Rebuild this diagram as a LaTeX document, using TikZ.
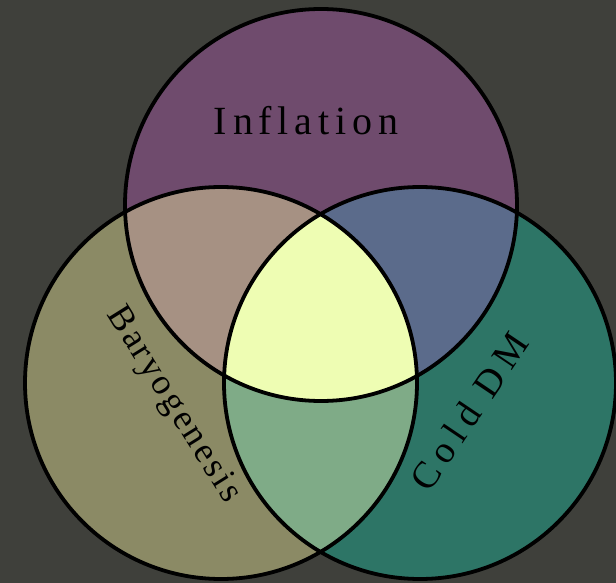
\documentclass[tikz,border=0pt]{standalone}
\usepackage{fontspec}
\setmainfont{Liberation Serif}
\newfontfamily\inffont[LetterSpace=14.5]{Liberation Serif}
\newfontfamily\barfont[LetterSpace=7.5]{Liberation Serif}
\newfontfamily\cdmfont[LetterSpace=19]{Liberation Serif}
\definecolor{bgc}{HTML}{3F403B}
\definecolor{cTop}{HTML}{6F4B6D}
\definecolor{cLeft}{HTML}{8B8A65}
\definecolor{cRight}{HTML}{2D7566}
\definecolor{cTL}{HTML}{A69183}
\definecolor{cTR}{HTML}{5B6B8B}
\definecolor{cLR}{HTML}{7FAB87}
\definecolor{cAll}{HTML}{EEFDB3}
\tikzset{
  ring/.style={draw=black, line width=3.8pt},
  lab/.style={text=black, inner sep=0pt}
}
\begin{document}
\begin{tikzpicture}[x=1pt,y=-1pt]
\useasboundingbox (0,0) rectangle (616,583);
\fill[bgc] (0,0) rectangle (616,583);
\coordinate (T) at (321,205);
\coordinate (L) at (221,383);
\coordinate (R) at (420,383);
\fill[cTop] (T) circle (196pt);
\fill[cLeft] (L) circle (196pt);
\fill[cRight] (R) circle (196pt);
\begin{scope}
  \clip (T) circle (196pt);
  \fill[cTL] (L) circle (196pt);
  \fill[cTR] (R) circle (196pt);
\end{scope}
\begin{scope}
  \clip (L) circle (196pt);
  \fill[cLR] (R) circle (196pt);
  \clip (R) circle (196pt);
  \fill[cAll] (T) circle (196pt);
\end{scope}
\draw[ring] (L) circle (196pt);
\draw[ring] (R) circle (196pt);
\draw[ring] (T) circle (196pt);
\node[lab, font=\fontsize{40}{40}\inffont] (inf) at (306,121) {Inflation};
\node[lab, rotate=-58, font=\fontsize{36}{36}\barfont] (bar) at (173,405) {Baryogenesis};
\node[lab, rotate=56, font=\fontsize{38}{38}\cdmfont] (cdm) at (469,411) {Cold DM};
\end{tikzpicture}
\end{document}
